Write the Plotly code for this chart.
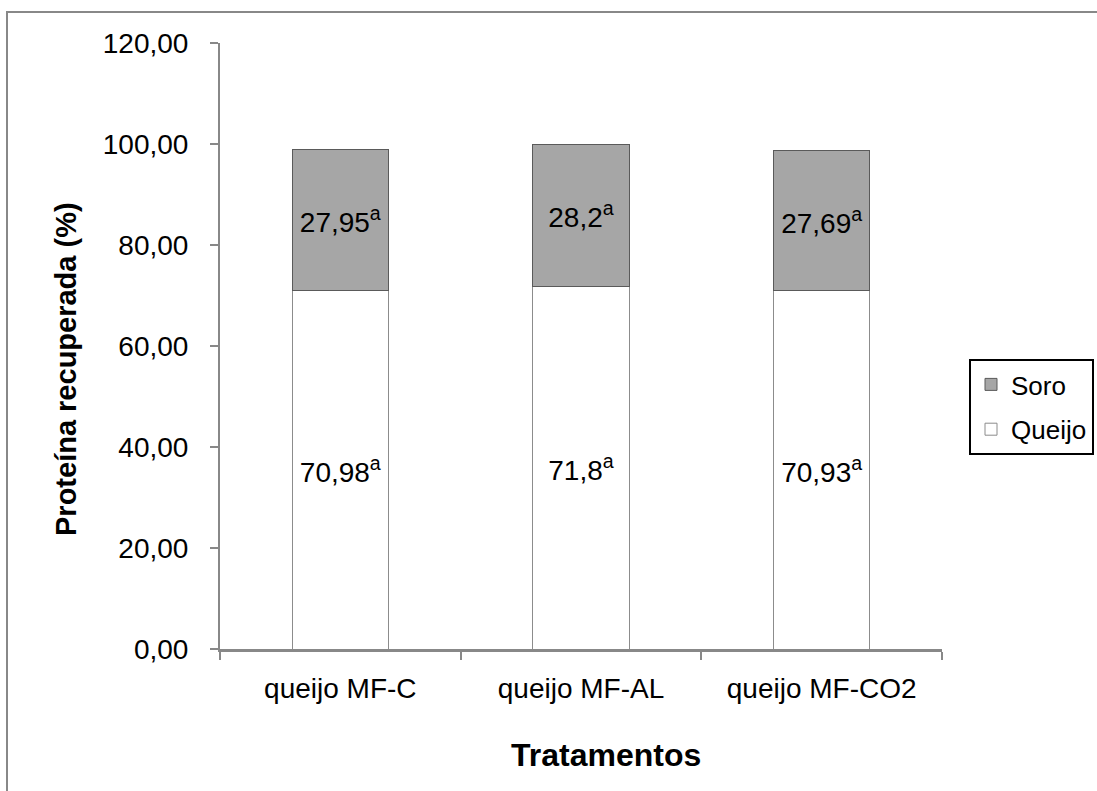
import plotly.graph_objects as go

categories = ["queijo MF-C", "queijo MF-AL", "queijo MF-CO2"]
queijo = [70.98, 71.8, 70.93]
soro = [27.95, 28.2, 27.69]
letters_queijo = ["a", "a", "a"]
letters_soro = ["a", "a", "a"]
y_ticks = [0, 20, 40, 60, 80, 100, 120]

FONT = "Liberation Sans, Arial, Helvetica, sans-serif"
FS = 28

def lab(vals, lets):
    return [f"{str(v).replace('.', ',')}<sup>{l}</sup>" for v, l in zip(vals, lets)]

fig = go.Figure()
fig.add_trace(go.Bar(
    x=categories, y=queijo, name="Queijo", legendgroup="q", legendrank=2,
    marker=dict(color="#FFFFFF", line=dict(color="#8C8C8C", width=1)),
    text=lab(queijo, letters_queijo), textposition="inside",
    insidetextanchor="middle", textangle=0, constraintext="none",
    textfont=dict(family=FONT, size=FS, color="#000000"),
    width=0.4,
))
fig.add_trace(go.Bar(
    x=categories, y=soro, name="Soro", legendgroup="s", legendrank=1,
    marker=dict(color="#A6A6A6", line=dict(color="#5A5A5A", width=1)),
    text=lab(soro, letters_soro), textposition="inside",
    insidetextanchor="middle", textangle=0, constraintext="none",
    textfont=dict(family=FONT, size=FS, color="#000000"),
    width=0.4,
))

W, H = 1097, 791
L, R, T, B = 220, 942, 43, 649
pw, ph = R - L, B - T

fig.update_layout(
    width=W, height=H, autosize=False,
    margin=dict(l=L, r=W - R, t=T, b=H - B, pad=0, autoexpand=False),
    barmode="stack",
    separators=",.",
    paper_bgcolor="white", plot_bgcolor="white",
    font=dict(family=FONT, size=FS, color="#000000"),
    showlegend=True,
    legend=dict(
        x=(969 - L) / pw, y=(B - 359) / ph, xanchor="left", yanchor="top",
        bordercolor="#000000", borderwidth=2, bgcolor="white",
        traceorder="grouped", tracegroupgap=8,
        font=dict(family=FONT, size=26),
    ),
    uniformtext=dict(mode=False),
)
fig.update_yaxes(
    range=[0, 120], tickvals=y_ticks, tickformat=".2f",
    showgrid=False, zeroline=False,
    showline=True, linecolor="#888888", linewidth=2,
    ticks="outside", ticklen=8, tickcolor="#888888", tickwidth=2,
    ticklabelstandoff=16,
    tickfont=dict(family=FONT, size=FS),
)
fig.update_xaxes(
    showgrid=False, zeroline=False,
    showline=True, linecolor="#888888", linewidth=3,
    ticks="outside", ticklen=8, tickcolor="#888888", tickwidth=2,
    tickson="boundaries", ticklabelstandoff=12,
    tickfont=dict(family=FONT, size=FS),
)
fig.add_annotation(
    text="<b>Proteína recuperada (%)</b>", xref="paper", yref="paper",
    x=(66 - L) / pw, y=(B - 369) / ph, textangle=-90, showarrow=False,
    xanchor="center", yanchor="middle",
    font=dict(family=FONT, size=29, color="#000000"),
)
fig.add_annotation(
    text="<b>Tratamentos</b>", xref="paper", yref="paper",
    x=(606 - L) / pw, y=(B - 755) / ph, showarrow=False,
    xanchor="center", yanchor="middle",
    font=dict(family=FONT, size=32, color="#000000"),
)
fig.add_shape(
    type="rect", xref="paper", yref="paper",
    x0=(7 - L) / pw, x1=(1110 - L) / pw,
    y0=(B - 800) / ph, y1=(B - 12) / ph,
    line=dict(color="#888888", width=2), fillcolor="rgba(0,0,0,0)",
    layer="below",
)
fig.write_html("out.html")
